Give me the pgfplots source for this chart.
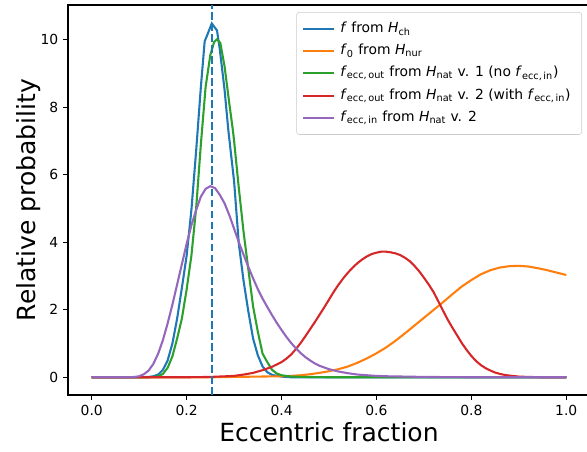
\documentclass[border=0pt]{standalone}
\usepackage{pgfplots}
\pgfplotsset{compat=1.18}
\usepackage{fontspec}
\setmainfont{DejaVu Sans}
\definecolor{tabblue}{HTML}{1F77B4}
\definecolor{taborange}{HTML}{FF7F0E}
\definecolor{tabgreen}{HTML}{2CA02C}
\definecolor{tabred}{HTML}{D62728}
\definecolor{tabpurple}{HTML}{9467BD}
\begin{document}
\begin{tikzpicture}
\begin{axis}[
  name=ax,
  scale only axis,
  width=375.84pt, height=280.8pt,
  xmin=-0.05, xmax=1.05,
  ymin=-0.525, ymax=11.025,
  xtick={0,0.2,0.4,0.6,0.8,1.0},
  ytick={0,2,4,6,8,10},
  xtick pos=bottom, ytick pos=left,
  tick align=outside,
  major tick length=3.5pt,
  every tick/.style={black, line width=0.8pt},
  axis line style={line width=0.8pt},
  /pgf/number format/assume math mode=true,
  xticklabel style={/pgf/number format/.cd, fixed, fixed zerofill, precision=1},
  yticklabel style={/pgf/number format/.cd, fixed, precision=0},
  tick label style={font=\fontsize{10}{12}\selectfont},
  xlabel={Eccentric fraction},
  ylabel={Relative probability},
  label style={font=\fontsize{18}{21}\selectfont},
  xlabel style={yshift=2pt},
  ylabel style={yshift=-7pt},
  legend cell align=left,
  legend style={at={(0.9847,0.982)}, anchor=north east,
    draw=black!20, fill=white, fill opacity=0.8, text opacity=1,
    rounded corners=2pt,
    font=\fontsize{10}{12}\selectfont,
    row sep=0pt, inner sep=4pt,
    nodes={inner xsep=4pt, inner ysep=2.5pt, text height=8pt, text depth=3pt}},
  legend image code/.code={\draw[#1] (0pt,0pt) -- (22pt,0pt);},
  every axis plot/.append style={line width=1.5pt},
]
% f from H_ch (blue)
\addplot[tabblue] coordinates {
(0.00,0) (0.10,0) (0.12,0.01) (0.13,0.03) (0.14,0.08) (0.15,0.22) (0.16,0.50)
(0.17,1.00) (0.18,1.74) (0.19,2.65) (0.20,3.60) (0.21,4.95) (0.22,6.70)
(0.23,8.60) (0.238,9.95) (0.243,10.12) (0.253,10.48) (0.264,10.27)
(0.27,9.70) (0.28,8.50) (0.288,7.30) (0.30,5.80) (0.31,3.95) (0.32,2.85)
(0.33,1.95) (0.34,1.15) (0.35,0.65) (0.36,0.32) (0.37,0.15) (0.38,0.07)
(0.40,0.02) (0.42,0) (1.00,0)
};
\addlegendentry{\textit{f} from \textit{H}\textsubscript{ch}}
% f0 from H_nur (orange)
\addplot[taborange] coordinates {
(0.00,0) (0.25,0) (0.30,0.01) (0.35,0.02) (0.40,0.03) (0.42,0.04) (0.44,0.06)
(0.46,0.09) (0.48,0.13) (0.50,0.18) (0.52,0.24) (0.54,0.32) (0.56,0.43)
(0.58,0.56) (0.60,0.71) (0.62,0.88) (0.64,1.08) (0.66,1.30) (0.68,1.53)
(0.70,1.76) (0.72,1.99) (0.74,2.22) (0.76,2.46) (0.78,2.69) (0.80,2.88)
(0.82,3.05) (0.84,3.17) (0.86,3.25) (0.88,3.29) (0.90,3.30) (0.92,3.28)
(0.94,3.23) (0.96,3.17) (0.98,3.10) (1.00,3.03)
};
\addlegendentry{\textit{f}\textsubscript{0} from \textit{H}\textsubscript{nur}}
% f_ecc,out from H_nat v.1 (green)
\addplot[tabgreen] coordinates {
(0.00,0) (0.12,0) (0.13,0.01) (0.14,0.03) (0.15,0.10) (0.16,0.28) (0.17,0.62)
(0.18,1.15) (0.19,1.74) (0.20,2.60) (0.21,3.60) (0.22,5.00) (0.23,6.90)
(0.24,8.60) (0.25,9.55) (0.258,9.93) (0.264,10.01) (0.271,9.90) (0.28,9.20)
(0.29,8.10) (0.2976,7.30) (0.30,7.00) (0.31,5.60) (0.32,4.30) (0.33,3.20)
(0.34,2.10) (0.35,1.35) (0.36,0.70) (0.37,0.45) (0.38,0.22) (0.39,0.11)
(0.40,0.06) (0.42,0.02) (0.45,0.01) (0.50,0) (1.00,0)
};
\addlegendentry{\textit{f}\textsubscript{ecc,\,out} from \textit{H}\textsubscript{nat} v. 1 (no \textit{f}\textsubscript{ecc,\,in})}
% f_ecc,out from H_nat v.2 (red)
\addplot[tabred] coordinates {
(0.00,0) (0.20,0) (0.25,0.01) (0.30,0.04) (0.32,0.08) (0.34,0.13) (0.36,0.21)
(0.38,0.31) (0.40,0.45) (0.41,0.55) (0.42,0.67) (0.43,0.83) (0.44,1.01)
(0.45,1.21) (0.46,1.42) (0.47,1.63) (0.48,1.85) (0.49,2.07) (0.50,2.30)
(0.51,2.53) (0.52,2.74) (0.53,2.93) (0.54,3.10) (0.55,3.25) (0.56,3.38)
(0.57,3.49) (0.58,3.58) (0.59,3.65) (0.60,3.69) (0.61,3.72) (0.62,3.72)
(0.63,3.70) (0.64,3.67) (0.65,3.62) (0.66,3.54) (0.67,3.44) (0.68,3.30)
(0.69,3.14) (0.70,2.95) (0.71,2.75) (0.72,2.53) (0.73,2.26) (0.74,1.98)
(0.75,1.71) (0.76,1.47) (0.77,1.24) (0.78,1.01) (0.79,0.81) (0.80,0.63)
(0.81,0.48) (0.82,0.36) (0.83,0.27) (0.84,0.20) (0.85,0.14) (0.86,0.10)
(0.87,0.07) (0.88,0.05) (0.90,0.02) (0.92,0.01) (0.95,0) (1.00,0)
};
\addlegendentry{\textit{f}\textsubscript{ecc,\,out} from \textit{H}\textsubscript{nat} v. 2 (with \textit{f}\textsubscript{ecc,\,in})}
% f_ecc,in from H_nat v.2 (purple)
\addplot[tabpurple] coordinates {
(0.00,0) (0.08,0) (0.09,0.01) (0.10,0.03) (0.11,0.09) (0.12,0.20) (0.13,0.40)
(0.14,0.70) (0.15,1.10) (0.16,1.60) (0.17,2.15) (0.18,2.75) (0.19,3.35)
(0.20,3.95) (0.21,4.50) (0.22,4.95) (0.23,5.35) (0.24,5.58) (0.25,5.66)
(0.26,5.60) (0.27,5.40) (0.28,5.15) (0.29,4.80) (0.30,4.40) (0.31,4.00)
(0.32,3.63) (0.33,3.27) (0.34,2.93) (0.35,2.61) (0.36,2.33) (0.37,2.08)
(0.38,1.84) (0.39,1.61) (0.40,1.40) (0.41,1.20) (0.42,1.02) (0.43,0.86)
(0.44,0.72) (0.45,0.60) (0.46,0.50) (0.47,0.41) (0.48,0.34) (0.50,0.24)
(0.52,0.17) (0.54,0.12) (0.56,0.08) (0.58,0.06) (0.60,0.04) (0.62,0.03)
(0.66,0.02) (0.70,0.01) (0.80,0) (1.00,0)
};
\addlegendentry{\textit{f}\textsubscript{ecc,\,in} from \textit{H}\textsubscript{nat} v. 2}
% dashed vertical line
\addplot[tabblue, forget plot, dash pattern=on 5.55pt off 2.4pt] coordinates {(0.254,-0.525) (0.254,11.025)};
\end{axis}
\pgfresetboundingbox
\useasboundingbox ([shift={(-48.96pt,-41.04pt)}]ax.south west) rectangle ([shift={(-2.16pt,3.6pt)}]ax.north east);
\end{tikzpicture}
\end{document}
